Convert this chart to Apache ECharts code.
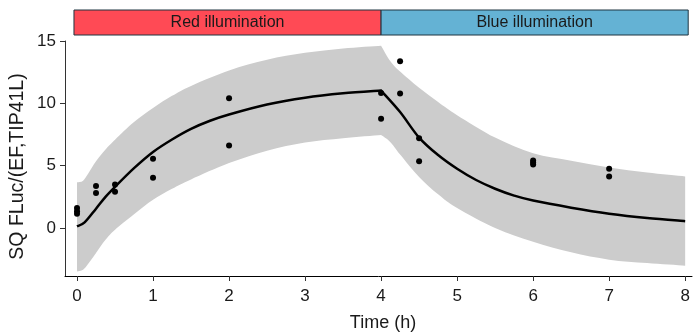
<!DOCTYPE html>
<html><head><meta charset="utf-8">
<script src="https://cdn.jsdelivr.net/npm/echarts@6/dist/echarts.min.js"></script>
<style>html,body{margin:0;padding:0;background:#fff}#chart{width:695px;height:334px}</style>
</head><body><div id="chart"></div>
<script>
// observed data points
const obsTime  = [0, 0, 0, 0.25, 0.25, 0.5, 0.5, 1, 1, 2, 2, 4, 4, 4.25, 4.25, 4.5, 4.5, 6, 6, 6, 7, 7];
const obsValue = [1.6, 1.35, 1.15, 3.36, 2.8, 3.48, 2.9, 5.56, 4.03, 10.4, 6.62, 10.82, 8.76, 13.38, 10.78, 7.2, 5.35, 5.42, 5.26, 5.1, 4.76, 4.14];
// fitted mean curve
const fitTime = [0, 0.1, 0.25, 0.375, 0.5, 0.75, 1, 1.25, 1.5, 1.75, 2, 2.5, 3, 3.5, 4, 4.25, 4.5, 4.75, 5, 5.25, 5.5, 5.75, 6, 6.5, 7, 7.5, 8];
const fitMean = [0.13, 0.45, 1.55, 2.5, 3.3, 4.8, 6.1, 7.1, 7.95, 8.6, 9.1, 9.9, 10.45, 10.8, 11.02, 9.3, 7.25, 5.85, 4.75, 3.85, 3.15, 2.6, 2.2, 1.63, 1.15, 0.8, 0.55];
// prediction band
const bandTime  = [0, 0.08, 0.15, 0.25, 0.375, 0.5, 0.75, 1, 1.25, 1.5, 2, 2.5, 3, 3.5, 4, 4.12, 4.25, 4.5, 4.75, 5, 5.5, 6, 6.5, 7, 7.5, 8];
const bandUpper = [3.66, 3.8, 4.4, 5.35, 6.3, 7.08, 8.5, 9.62, 10.6, 11.4, 12.64, 13.5, 14.05, 14.4, 14.62, 13.4, 12.55, 11.25, 10.1, 9.05, 7.25, 6.0, 5.4, 4.85, 4.45, 4.14];
const bandLower = [-3.48, -3.35, -2.85, -2.0, -0.95, -0.14, 1.1, 2.27, 3.15, 3.9, 5.21, 6.2, 6.85, 7.2, 7.45, 6.9, 5.9, 4.1, 2.7, 1.6, 0.0, -1.1, -1.95, -2.54, -2.81, -3.02];
// illumination phases
const phaseLabels = ['Red illumination', 'Blue illumination'];
const phaseStart  = [-0.04, 4];
const phaseEnd    = [4, 8.04];
const phaseColors = ['#FF4A55', '#64B2D4'];
const switchTime = 4;
// ticks
const xTicks = [0, 1, 2, 3, 4, 5, 6, 7, 8];
const yTicks = [0, 5, 10, 15];

const FONT = '"Liberation Sans", Arial, Helvetica, sans-serif';
const X_MIN = -0.158, X_MAX = 8.09;
const chart = echarts.init(document.getElementById('chart'), null, {renderer: 'canvas'});

// Catmull-Rom smoothing of screen points into SVG cubic segments (no leading M)
function smoothSegs(p) {
  let d = '';
  for (let i = 0; i < p.length - 1; i++) {
    const p0 = p[Math.max(i - 1, 0)], p1 = p[i], p2 = p[i + 1], p3 = p[Math.min(i + 2, p.length - 1)];
    const c1 = [p1[0] + (p2[0] - p0[0]) / 6, p1[1] + (p2[1] - p0[1]) / 6];
    const c2 = [p2[0] - (p3[0] - p1[0]) / 6, p2[1] - (p3[1] - p1[1]) / 6];
    d += ' C' + c1[0] + ' ' + c1[1] + ' ' + c2[0] + ' ' + c2[1] + ' ' + p2[0] + ' ' + p2[1];
  }
  return d;
}
function phaseIdx(arr, first) {
  const r = [];
  arr.forEach((t, i) => { if (first ? t <= switchTime : t >= switchTime) r.push(i); });
  return r;
}

const option = {
  animation: false,
  backgroundColor: '#fff',
  grid: [
    {left: 65, right: 3, top: 41, height: 235},
    {left: 65, right: 3, top: 10, height: 25}
  ],
  xAxis: [
    {type: 'value', gridIndex: 0, min: X_MIN, max: X_MAX,
     axisLine: {show: true, onZero: false, lineStyle: {color: '#000', width: 1}},
     axisTick: {show: true, length: 5, customValues: xTicks, lineStyle: {color: '#333', width: 1}},
     axisLabel: {show: true, customValues: xTicks, margin: 12, fontSize: 17, color: '#1a1a1a', fontFamily: FONT},
     splitLine: {show: false}},
    {type: 'value', gridIndex: 1, min: X_MIN, max: X_MAX, show: false}
  ],
  yAxis: [
    {type: 'value', gridIndex: 0, min: -3.85, max: 15,
     axisLine: {show: true, onZero: false, lineStyle: {color: '#333', width: 1}},
     axisTick: {show: true, length: 5, customValues: yTicks, lineStyle: {color: '#333', width: 1}},
     axisLabel: {show: true, customValues: yTicks, margin: 9, fontSize: 17, color: '#1a1a1a', fontFamily: FONT},
     splitLine: {show: false}},
    {type: 'value', gridIndex: 1, min: 0, max: 1, show: false}
  ],
  graphic: [
    {type: 'text', x: 18, y: 166.5, rotation: Math.PI / 2,
     style: {text: 'SQ FLuc/(EF,TIP41L)', align: 'center', verticalAlign: 'middle', fontSize: 19.5, fontFamily: FONT, fill: '#1a1a1a'}},
    {type: 'text', x: 383, y: 323,
     style: {text: 'Time (h)', align: 'center', verticalAlign: 'middle', fontSize: 18, fontFamily: FONT, fill: '#1a1a1a'}}
  ],
  series: [
    {type: 'custom', xAxisIndex: 0, yAxisIndex: 0, silent: true, z: 1,
     data: bandTime.map((t, i) => [t, bandLower[i], bandUpper[i]]),
     renderItem: function (params, api) {
       if (params.dataIndex !== 0) return null;
       const a = phaseIdx(bandTime, true), b = phaseIdx(bandTime, false);
       const up1 = a.map(i => api.coord([bandTime[i], bandUpper[i]]));
       const up2 = b.map(i => api.coord([bandTime[i], bandUpper[i]]));
       const lo2 = b.slice().reverse().map(i => api.coord([bandTime[i], bandLower[i]]));
       const lo1 = a.slice().reverse().map(i => api.coord([bandTime[i], bandLower[i]]));
       let d = 'M' + up1[0][0] + ' ' + up1[0][1] + smoothSegs(up1) + smoothSegs(up2)
             + ' L' + lo2[0][0] + ' ' + lo2[0][1] + smoothSegs(lo2) + smoothSegs(lo1) + ' Z';
       return {type: 'path', shape: {pathData: d}, style: {fill: '#CCCCCC', stroke: null}};
     }},
    {type: 'custom', xAxisIndex: 0, yAxisIndex: 0, silent: true, z: 3,
     data: fitTime.map((t, i) => [t, fitMean[i]]),
     renderItem: function (params, api) {
       if (params.dataIndex !== 0) return null;
       const a = phaseIdx(fitTime, true).map(i => api.coord([fitTime[i], fitMean[i]]));
       const b = phaseIdx(fitTime, false).map(i => api.coord([fitTime[i], fitMean[i]]));
       const d = 'M' + a[0][0] + ' ' + a[0][1] + smoothSegs(a) + smoothSegs(b);
       return {type: 'path', shape: {pathData: d},
               style: {fill: null, stroke: '#000', lineWidth: 2.5, lineJoin: 'miter'}};
     }},
    {type: 'scatter', xAxisIndex: 0, yAxisIndex: 0, z: 4, symbol: 'circle', symbolSize: 6,
     data: obsTime.map((t, i) => [t, obsValue[i]]),
     itemStyle: {color: '#000', opacity: 1}},
    {type: 'custom', xAxisIndex: 1, yAxisIndex: 1, silent: true, z: 2,
     data: phaseLabels.map((l, i) => [phaseStart[i], phaseEnd[i], i]),
     renderItem: function (params, api) {
       const i = api.value(2);
       const p0 = api.coord([api.value(0), 1]);
       const p1 = api.coord([api.value(1), 0]);
       return {type: 'group', children: [
         {type: 'rect', shape: {x: p0[0], y: p0[1], width: p1[0] - p0[0], height: p1[1] - p0[1]},
          style: {fill: phaseColors[i], stroke: '#1E3440', lineWidth: 1}},
         {type: 'text', style: {text: phaseLabels[i], x: (p0[0] + p1[0]) / 2, y: (p0[1] + p1[1]) / 2,
          align: 'center', verticalAlign: 'middle', fontSize: 16, fontFamily: FONT, fill: '#1a1a1a'}}
       ]};
     }}
  ]
};
chart.setOption(option);
</script></body></html>
